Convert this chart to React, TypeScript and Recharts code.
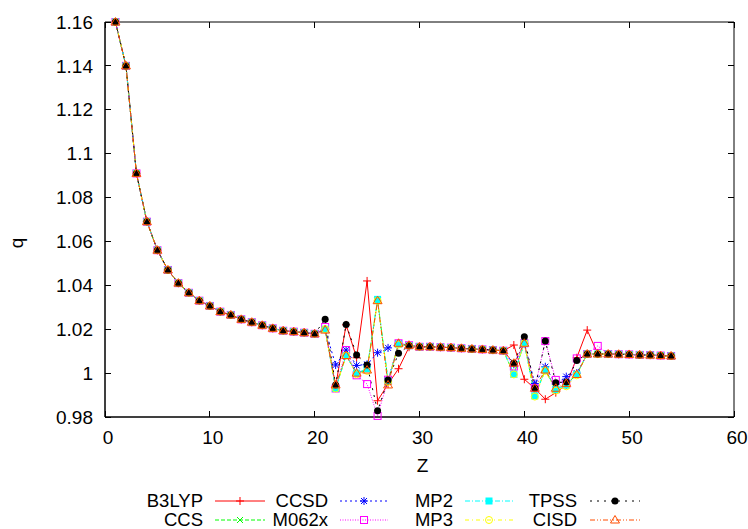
import React from 'react';
import { LineChart, Line, XAxis, YAxis, Legend, CartesianGrid } from 'recharts';

const FONT = '"Liberation Sans", Arial, sans-serif';
const TICK_FONT = 19;
const KEY_FONT = 18.5;

const CHART_W = 748;
const CHART_H = 529;
const MARGIN = { top: 22, right: 14, left: 0, bottom: 0 };
const Y_AXIS_W = 105;
const X_AXIS_H = 70;
const KEY_H = 42;

// atomic number Z
const zValues = [
  1, 2, 3, 4, 5, 6, 7, 8, 9, 10, 11, 12, 13, 14, 15, 16, 17, 18, 19, 20,
  21, 22, 23, 24, 25, 26, 27, 28, 29, 30, 31, 32, 33, 34, 35, 36, 37, 38,
  39, 40, 41, 42, 43, 44, 45, 46, 47, 48, 49, 50, 51, 52, 53, 54,
];

// shared parts where all methods overlap
const headZ1to20 = [
  1.16, 1.14, 1.091, 1.069, 1.056, 1.047, 1.041, 1.0366, 1.033, 1.0306,
  1.028, 1.0265, 1.0245, 1.0232, 1.0218, 1.0204, 1.0193, 1.0189, 1.0184, 1.0179,
];
const plateauZ30to38 = [1.012, 1.012, 1.0118, 1.0116, 1.0113, 1.011, 1.0108, 1.0105, 1.0102];
const tailZ48to54 = [1.0087, 1.0086, 1.0085, 1.0083, 1.0082, 1.008, 1.0078];

// Z 21-29 and Z 39-47 per method
const b3lyp = [
  ...headZ1to20,
  1.02, 0.994, 1.022, 1.007, 1.042, 0.9874, 0.995, 1.002, 1.0118,
  ...plateauZ30to38,
  1.0128, 0.9972, 0.993, 0.9881, 0.9911, 0.9946, 1.007, 1.0196, 1.0088,
  ...tailZ48to54,
];
const ccs = [
  ...headZ1to20,
  1.02, 0.993, 1.008, 1.0, 1.0015, 1.033, 0.9965, 1.0132, 1.0125,
  ...plateauZ30to38,
  0.9995, 1.0136, 0.9896, 1.0014, 0.9928, 0.9948, 0.9994, 1.0087, 1.0087,
  ...tailZ48to54,
];
const ccsd = [
  ...headZ1to20,
  1.02, 1.0037, 1.0105, 1.0035, 1.004, 1.0093, 1.0115, 1.0136, 1.0125,
  ...plateauZ30to38,
  1.004, 1.0136, 0.9953, 1.0029, 0.995, 0.9984, 1.0, 1.0087, 1.0087,
  ...tailZ48to54,
];
const m062x = [
  ...headZ1to20,
  1.021, 0.993, 1.0105, 0.999, 0.995, 0.9805, 0.997, 1.0136, 1.0127,
  ...plateauZ30to38,
  1.003, 1.0136, 0.9931, 1.0146, 0.9969, 0.995, 1.0067, 1.0087, 1.0124,
  ...tailZ48to54,
];
const mp2 = [
  ...headZ1to20,
  1.02, 0.993, 1.008, 1.0, 1.002, 1.0336, 0.9965, 1.0132, 1.0125,
  ...plateauZ30to38,
  0.9995, 1.0136, 0.9896, 1.0014, 0.9925, 0.9945, 0.9994, 1.0087, 1.0087,
  ...tailZ48to54,
];
const mp3 = [
  ...headZ1to20,
  1.02, 0.993, 1.008, 0.9995, 1.001, 1.033, 0.996, 1.013, 1.0125,
  ...plateauZ30to38,
  0.9994, 1.0136, 0.9893, 1.001, 0.992, 0.994, 0.999, 1.0087, 1.0087,
  ...tailZ48to54,
];
const tpss = [
  ...headZ1to20,
  1.0245, 0.9946, 1.0222, 1.0083, 1.0037, 0.9828, 0.9969, 1.009, 1.0125,
  ...plateauZ30to38,
  1.0045, 1.0166, 0.9931, 1.0146, 0.9956, 0.996, 1.0057, 1.0087, 1.0087,
  ...tailZ48to54,
];
const cisd = [
  ...headZ1to20,
  1.0196, 0.9946, 1.008, 1.0, 1.0014, 1.033, 0.9946, 1.0136, 1.0127,
  ...plateauZ30to38,
  1.0045, 1.0136, 0.9931, 1.0014, 0.9931, 0.9953, 0.9994, 1.0087, 1.0087,
  ...tailZ48to54,
];

const xTicks = [0, 10, 20, 30, 40, 50, 60];
const yTicks = [0.98, 1, 1.02, 1.04, 1.06, 1.08, 1.1, 1.12, 1.14, 1.16];
const X_DOMAIN = [0, 60];
const Y_DOMAIN = [0.98, 1.16];

type Shape = 'plus' | 'cross' | 'star' | 'square' | 'squareFilled' | 'circle' | 'circleFilled' | 'triangle';

interface SeriesDef {
  key: string;
  values: number[];
  color: string;
  dash?: string;
  shape: Shape;
}

// drawing order (gnuplot plot order)
const series: SeriesDef[] = [
  { key: 'B3LYP', values: b3lyp, color: '#ff0000', shape: 'plus' },
  { key: 'CCS', values: ccs, color: '#00ff00', dash: '4 2', shape: 'cross' },
  { key: 'CCSD', values: ccsd, color: '#0000ff', dash: '2 3', shape: 'star' },
  { key: 'M062x', values: m062x, color: '#ff00ff', dash: '1 1.5', shape: 'square' },
  { key: 'MP2', values: mp2, color: '#00ffff', dash: '5 2 1 2', shape: 'squareFilled' },
  { key: 'MP3', values: mp3, color: '#ffff00', dash: '4 3 1 3', shape: 'circle' },
  { key: 'TPSS', values: tpss, color: '#000000', dash: '2 5', shape: 'circleFilled' },
  { key: 'CISD', values: cisd, color: '#ff4d00', dash: '5 2 1 2 1 2', shape: 'triangle' },
];

// legend grid, row by row as in the reference
const legendOrder = [
  ['B3LYP', 'CCSD', 'MP2', 'TPSS'],
  ['CCS', 'M062x', 'MP3', 'CISD'],
];

const data = zValues.map((z, i) => {
  const row: Record<string, number> = { z };
  series.forEach((s) => {
    row[s.key] = s.values[i];
  });
  return row;
});

const Marker = ({ cx, cy, shape, color }: { cx: number; cy: number; shape: Shape; color: string }) => {
  const sw = 1;
  switch (shape) {
    case 'plus':
      return <path d={`M${cx - 4},${cy}H${cx + 4}M${cx},${cy - 4}V${cy + 4}`} stroke={color} strokeWidth={sw} fill="none" />;
    case 'cross':
      return (
        <path
          d={`M${cx - 3},${cy - 3}L${cx + 3},${cy + 3}M${cx - 3},${cy + 3}L${cx + 3},${cy - 3}`}
          stroke={color}
          strokeWidth={sw}
          fill="none"
        />
      );
    case 'star':
      return (
        <path
          d={`M${cx - 4},${cy}H${cx + 4}M${cx},${cy - 4}V${cy + 4}M${cx - 3},${cy - 3}L${cx + 3},${cy + 3}M${cx - 3},${cy + 3}L${cx + 3},${cy - 3}`}
          stroke={color}
          strokeWidth={sw}
          fill="none"
        />
      );
    case 'square':
      return <rect x={cx - 3.5} y={cy - 3.5} width={7} height={7} stroke={color} strokeWidth={sw} fill="none" />;
    case 'squareFilled':
      return <rect x={cx - 3.5} y={cy - 3.5} width={7} height={7} fill={color} />;
    case 'circle':
      return <circle cx={cx} cy={cy} r={3.5} stroke={color} strokeWidth={sw} fill="none" />;
    case 'circleFilled':
      return <circle cx={cx} cy={cy} r={3.5} fill={color} />;
    case 'triangle':
      return (
        <polygon
          points={`${cx},${cy - 4.5} ${cx - 4.5},${cy + 3} ${cx + 4.5},${cy + 3}`}
          stroke={color}
          strokeWidth={sw}
          fill="none"
        />
      );
    default:
      return null;
  }
};

const makeDot = (s: SeriesDef) => (props: any) => {
  const { cx, cy, index } = props;
  if (cx == null || cy == null) return <g key={`${s.key}-${index}`} />;
  return (
    <g key={`${s.key}-${index}`}>
      <Marker cx={cx} cy={cy} shape={s.shape} color={s.color} />
    </g>
  );
};

const XTickLabel = (props: any) => {
  const { x, y, payload } = props;
  return (
    <text x={x + 3} y={y + 20} dy="0.35em" textAnchor="middle" fontSize={TICK_FONT} fontFamily={FONT} fill="#000">
      {payload.value}
    </text>
  );
};

const YTickLabel = (props: any) => {
  const { x, y, payload } = props;
  return (
    <text x={x - 12} y={y} dy="0.35em" textAnchor="end" fontSize={TICK_FONT} fontFamily={FONT} fill="#000">
      {String(Number(Number(payload.value).toFixed(2)))}
    </text>
  );
};

// plot box in pixels
const BOX = {
  left: MARGIN.left + Y_AXIS_W,
  top: MARGIN.top,
  width: CHART_W - MARGIN.left - MARGIN.right - Y_AXIS_W,
  height: CHART_H - MARGIN.top - MARGIN.bottom - X_AXIS_H - KEY_H,
};

// inward gnuplot-style ticks on all four sides
const TickMarks = () => {
  const px = (v: number) => BOX.left + ((v - X_DOMAIN[0]) / (X_DOMAIN[1] - X_DOMAIN[0])) * BOX.width;
  const py = (v: number) => BOX.top + BOX.height - ((v - Y_DOMAIN[0]) / (Y_DOMAIN[1] - Y_DOMAIN[0])) * BOX.height;
  const bottom = BOX.top + BOX.height;
  const right = BOX.left + BOX.width;
  return (
    <svg width={CHART_W} height={CHART_H} style={{ position: 'absolute', left: 0, top: 0, pointerEvents: 'none' }}>
      <g stroke="#000" strokeWidth={1} shapeRendering="crispEdges">
        {xTicks.map((t) => (
          <g key={`x${t}`}>
            <line x1={px(t)} x2={px(t)} y1={bottom} y2={bottom - 6} />
            <line x1={px(t)} x2={px(t)} y1={BOX.top} y2={BOX.top + 6} />
          </g>
        ))}
        {yTicks.map((t) => (
          <g key={`y${t}`}>
            <line x1={BOX.left} x2={BOX.left + 6} y1={py(t)} y2={py(t)} />
            <line x1={right} x2={right - 6} y1={py(t)} y2={py(t)} />
          </g>
        ))}
      </g>
    </svg>
  );
};

const legendCols = [
  { textEnd: 203, x1: 215, x2: 265 },
  { textEnd: 328, x1: 340, x2: 388 },
  { textEnd: 453, x1: 465, x2: 513 },
  { textEnd: 577, x1: 590, x2: 640 },
];
const legendRowY = [14, 33];

const KeyBox = () => (
  <svg width={748} height={42} style={{ display: 'block', overflow: 'visible' }}>
    {legendOrder.map((row, r) =>
      row.map((name, c) => {
        const s = series.find((d) => d.key === name)!;
        const col = legendCols[c];
        const y = legendRowY[r];
        return (
          <g key={name}>
            <text x={col.textEnd} y={y} dy="0.35em" textAnchor="end" fontSize={KEY_FONT} fontFamily={FONT} fill="#000">
              {name}
            </text>
            <line x1={col.x1} x2={col.x2} y1={y} y2={y} stroke={s.color} strokeDasharray={s.dash} strokeWidth={1} />
            <Marker cx={(col.x1 + col.x2) / 2} cy={y} shape={s.shape} color={s.color} />
          </g>
        );
      })
    )}
  </svg>
);

const App: React.FC = () => {
  return (
    <div style={{ position: 'relative', width: CHART_W, height: CHART_H, background: '#fff' }}>
      <style>{'body{margin:0}'}</style>
      <LineChart width={CHART_W} height={CHART_H} data={data} margin={MARGIN}>
        {/* frame: grid lines only at the four edges of the plot box */}
        <CartesianGrid
          stroke="#000"
          strokeWidth={1}
          horizontalPoints={[BOX.top, BOX.top + BOX.height]}
          verticalPoints={[BOX.left, BOX.left + BOX.width]}
        />
        <XAxis
          dataKey="z"
          type="number"
          domain={X_DOMAIN}
          ticks={xTicks}
          axisLine={{ stroke: '#000' }}
          tickLine={false}
          tickSize={0}
          tickMargin={0}
          height={X_AXIS_H}
          interval={0}
          tick={<XTickLabel />}
          label={{
            value: 'Z',
            content: (p: any) => {
              const vb = p.viewBox;
              return (
                <text x={vb.x + vb.width / 2 + 3} y={465} dy="0.35em" textAnchor="middle" fontSize={TICK_FONT} fontFamily={FONT} fill="#000">
                  Z
                </text>
              );
            },
          }}
        />
        <YAxis
          type="number"
          domain={Y_DOMAIN}
          ticks={yTicks}
          axisLine={{ stroke: '#000' }}
          tickLine={false}
          tickSize={0}
          tickMargin={0}
          width={Y_AXIS_W}
          interval={0}
          tick={<YTickLabel />}
          label={{
            value: 'q',
            content: () => (
              <text x={16} y={243} dy="0.35em" textAnchor="middle" fontSize={TICK_FONT} fontFamily={FONT} fill="#000" transform="rotate(-90 16 243)">
                q
              </text>
            ),
          }}
        />
        <Legend
          verticalAlign="bottom"
          height={KEY_H}
          content={() => <KeyBox />}
          wrapperStyle={{ left: 0, bottom: 0, width: CHART_W, height: KEY_H }}
        />
        {series.map((s) => (
          <Line
            key={s.key}
            type="linear"
            dataKey={s.key}
            stroke={s.color}
            strokeWidth={1}
            strokeDasharray={s.dash}
            dot={makeDot(s)}
            activeDot={false}
            isAnimationActive={false}
          />
        ))}
      </LineChart>
      <TickMarks />
    </div>
  );
};

export default App;
